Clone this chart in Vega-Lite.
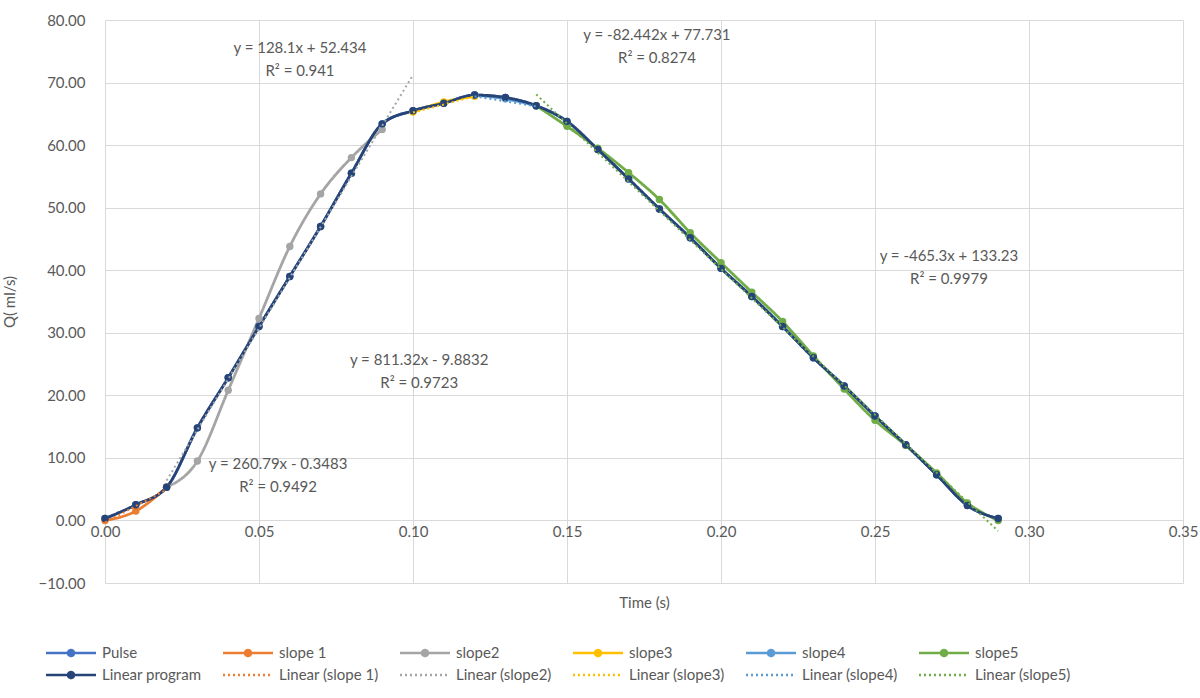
{
  "$schema": "https://vega.github.io/schema/vega-lite/v6.json",
  "width": 1078,
  "height": 563,
  "autosize": {"type": "none"},
  "padding": {"left": 105, "top": 20, "right": 17, "bottom": 115},
  "background": "white",
  "config": {
    "view": {"stroke": null},
    "font": "Lato",
    "axis": {"gridColor": "#d9d9d9", "gridWidth": 1, "domain": false, "ticks": false, "labelColor": "#595959", "labelFontSize": 15, "titleColor": "#595959", "titleFontSize": 15, "titleFontWeight": "normal", "labelFont": "Lato", "titleFont": "Lato"}
  },
  "datasets": {
    "pts": [
      {"series": "Pulse", "t": 0.00, "q": 0.3},
      {"series": "Pulse", "t": 0.01, "q": 2.5},
      {"series": "Pulse", "t": 0.02, "q": 5.3},
      {"series": "Pulse", "t": 0.03, "q": 14.8},
      {"series": "Pulse", "t": 0.04, "q": 22.8},
      {"series": "Pulse", "t": 0.05, "q": 31.0},
      {"series": "Pulse", "t": 0.06, "q": 39.0},
      {"series": "Pulse", "t": 0.07, "q": 47.0},
      {"series": "Pulse", "t": 0.08, "q": 55.5},
      {"series": "Pulse", "t": 0.09, "q": 63.4},
      {"series": "Pulse", "t": 0.10, "q": 65.5},
      {"series": "Pulse", "t": 0.11, "q": 66.7},
      {"series": "Pulse", "t": 0.12, "q": 68.0},
      {"series": "Pulse", "t": 0.13, "q": 67.6},
      {"series": "Pulse", "t": 0.14, "q": 66.3},
      {"series": "Pulse", "t": 0.15, "q": 63.8},
      {"series": "Pulse", "t": 0.16, "q": 59.3},
      {"series": "Pulse", "t": 0.17, "q": 54.6},
      {"series": "Pulse", "t": 0.18, "q": 49.8},
      {"series": "Pulse", "t": 0.19, "q": 45.2},
      {"series": "Pulse", "t": 0.20, "q": 40.3},
      {"series": "Pulse", "t": 0.21, "q": 35.8},
      {"series": "Pulse", "t": 0.22, "q": 31.0},
      {"series": "Pulse", "t": 0.23, "q": 26.0},
      {"series": "Pulse", "t": 0.24, "q": 21.5},
      {"series": "Pulse", "t": 0.25, "q": 16.7},
      {"series": "Pulse", "t": 0.26, "q": 12.1},
      {"series": "Pulse", "t": 0.27, "q": 7.3},
      {"series": "Pulse", "t": 0.28, "q": 2.4},
      {"series": "Pulse", "t": 0.29, "q": 0.3},
      {"series": "slope 1", "t": 0.00, "q": 0.0},
      {"series": "slope 1", "t": 0.01, "q": 1.5},
      {"series": "slope 1", "t": 0.02, "q": 5.3},
      {"series": "slope2", "t": 0.02, "q": 5.3},
      {"series": "slope2", "t": 0.03, "q": 9.5},
      {"series": "slope2", "t": 0.04, "q": 20.8},
      {"series": "slope2", "t": 0.05, "q": 32.3},
      {"series": "slope2", "t": 0.06, "q": 43.8},
      {"series": "slope2", "t": 0.07, "q": 52.2},
      {"series": "slope2", "t": 0.08, "q": 58.0},
      {"series": "slope2", "t": 0.09, "q": 62.5},
      {"series": "slope3", "t": 0.10, "q": 65.3},
      {"series": "slope3", "t": 0.11, "q": 66.9},
      {"series": "slope3", "t": 0.12, "q": 67.8},
      {"series": "slope4", "t": 0.12, "q": 68.0},
      {"series": "slope4", "t": 0.13, "q": 67.4},
      {"series": "slope4", "t": 0.14, "q": 66.3},
      {"series": "slope5", "t": 0.14, "q": 66.3},
      {"series": "slope5", "t": 0.15, "q": 63.0},
      {"series": "slope5", "t": 0.16, "q": 59.5},
      {"series": "slope5", "t": 0.17, "q": 55.6},
      {"series": "slope5", "t": 0.18, "q": 51.3},
      {"series": "slope5", "t": 0.19, "q": 46.0},
      {"series": "slope5", "t": 0.20, "q": 41.2},
      {"series": "slope5", "t": 0.21, "q": 36.5},
      {"series": "slope5", "t": 0.22, "q": 31.8},
      {"series": "slope5", "t": 0.23, "q": 26.3},
      {"series": "slope5", "t": 0.24, "q": 21.0},
      {"series": "slope5", "t": 0.25, "q": 16.0},
      {"series": "slope5", "t": 0.26, "q": 12.0},
      {"series": "slope5", "t": 0.27, "q": 7.6},
      {"series": "slope5", "t": 0.28, "q": 2.8},
      {"series": "slope5", "t": 0.29, "q": 0.0},
      {"series": "Linear program", "t": 0.00, "q": 0.3},
      {"series": "Linear program", "t": 0.01, "q": 2.5},
      {"series": "Linear program", "t": 0.02, "q": 5.3},
      {"series": "Linear program", "t": 0.03, "q": 14.8},
      {"series": "Linear program", "t": 0.04, "q": 22.8},
      {"series": "Linear program", "t": 0.05, "q": 31.0},
      {"series": "Linear program", "t": 0.06, "q": 39.0},
      {"series": "Linear program", "t": 0.07, "q": 47.0},
      {"series": "Linear program", "t": 0.08, "q": 55.5},
      {"series": "Linear program", "t": 0.09, "q": 63.4},
      {"series": "Linear program", "t": 0.10, "q": 65.5},
      {"series": "Linear program", "t": 0.11, "q": 66.7},
      {"series": "Linear program", "t": 0.12, "q": 68.0},
      {"series": "Linear program", "t": 0.13, "q": 67.6},
      {"series": "Linear program", "t": 0.14, "q": 66.3},
      {"series": "Linear program", "t": 0.15, "q": 63.8},
      {"series": "Linear program", "t": 0.16, "q": 59.3},
      {"series": "Linear program", "t": 0.17, "q": 54.6},
      {"series": "Linear program", "t": 0.18, "q": 49.8},
      {"series": "Linear program", "t": 0.19, "q": 45.2},
      {"series": "Linear program", "t": 0.20, "q": 40.3},
      {"series": "Linear program", "t": 0.21, "q": 35.8},
      {"series": "Linear program", "t": 0.22, "q": 31.0},
      {"series": "Linear program", "t": 0.23, "q": 26.0},
      {"series": "Linear program", "t": 0.24, "q": 21.5},
      {"series": "Linear program", "t": 0.25, "q": 16.7},
      {"series": "Linear program", "t": 0.26, "q": 12.1},
      {"series": "Linear program", "t": 0.27, "q": 7.3},
      {"series": "Linear program", "t": 0.28, "q": 2.4},
      {"series": "Linear program", "t": 0.29, "q": 0.3}
    ],
    "trend": [
      {"series": "Linear (slope 1)", "t": 0.00, "q": -0.3},
      {"series": "Linear (slope 1)", "t": 0.02, "q": 4.9},
      {"series": "Linear (slope2)", "t": 0.02, "q": 6.4},
      {"series": "Linear (slope2)", "t": 0.10, "q": 71.2},
      {"series": "Linear (slope3)", "t": 0.10, "q": 65.2},
      {"series": "Linear (slope3)", "t": 0.12, "q": 67.8},
      {"series": "Linear (slope4)", "t": 0.12, "q": 67.8},
      {"series": "Linear (slope4)", "t": 0.14, "q": 66.2},
      {"series": "Linear (slope5)", "t": 0.14, "q": 68.1},
      {"series": "Linear (slope5)", "t": 0.29, "q": -1.7}
    ],
    "one": [{"k": 1}]
  },
  "layer": [
    {
      "data": {"name": "pts"},
      "mark": {"type": "line", "interpolate": "monotone", "strokeWidth": 2.8, "point": {"filled": true, "size": 55}},
      "encoding": {
        "x": {"field": "t", "type": "quantitative", "title": "Time (s)",
          "scale": {"domain": [0, 0.35], "nice": false, "zero": false},
          "axis": {"values": [0, 0.05, 0.1, 0.15, 0.2, 0.25, 0.3, 0.35], "format": ".2f", "labelPadding": 4, "labelFlush": false, "offset": -63, "titleY": 82, "titleBaseline": "middle"}},
        "y": {"field": "q", "type": "quantitative", "title": "Q( ml/s)",
          "scale": {"domain": [-10, 80], "nice": false},
          "axis": {"values": [-10, 0, 10, 20, 30, 40, 50, 60, 70, 80], "format": ".2f", "labelPadding": 20, "titleX": -88, "labelFlush": false}},
        "color": {"field": "series", "type": "nominal",
          "scale": {"domain": ["Pulse", "slope 1", "slope2", "slope3", "slope4", "slope5", "Linear program", "Linear (slope 1)", "Linear (slope2)", "Linear (slope3)", "Linear (slope4)", "Linear (slope5)"],
            "range": ["#4472C4", "#ED7D31", "#A5A5A5", "#FFC000", "#5B9BD5", "#70AD47", "#264478", "#ED7D31", "#A5A5A5", "#FFC000", "#5B9BD5", "#70AD47"]},
          "legend": {"title": null, "orient": "none", "legendX": -73, "legendY": 619, "columns": 6, "direction": "horizontal",
            "symbolType": "M-2,0H2M-0.24,0a0.24,0.24 0 1,0 0.48,0a0.24,0.24 0 1,0 -0.48,0",
            "symbolSize": 625, "symbolOffset": 25, "symbolStrokeWidth": 2.5, "labelFontSize": 15, "labelColor": "#595959", "labelFont": "Lato", "labelOffset": 17, "columnPadding": 7, "rowPadding": 0,
            "encode": {"symbols": {"update": {"shape": {"signal": "indexof(datum.value, 'Linear (') == 0 ? 'M-2,0H2' : 'M-2,0H2M-0.24,0a0.24,0.24 0 1,0 0.48,0a0.24,0.24 0 1,0 -0.48,0'"}}}}}},
        "strokeDash": {"field": "series", "type": "nominal",
          "scale": {"domain": ["Pulse", "slope 1", "slope2", "slope3", "slope4", "slope5", "Linear program", "Linear (slope 1)", "Linear (slope2)", "Linear (slope3)", "Linear (slope4)", "Linear (slope5)"],
            "range": [[1, 0], [1, 0], [1, 0], [1, 0], [1, 0], [1, 0], [1, 0], [2, 3], [2, 3], [2, 3], [2, 3], [2, 3]]}}
      }
    },
    {
      "data": {"name": "trend"},
      "mark": {"type": "line", "strokeWidth": 2},
      "encoding": {
        "x": {"field": "t", "type": "quantitative"},
        "y": {"field": "q", "type": "quantitative"},
        "color": {"field": "series", "type": "nominal"},
        "strokeDash": {"field": "series", "type": "nominal"}
      }
    },
    {
      "data": {"name": "one"},
      "mark": {"type": "text", "text": ["y = 128.1x + 52.434", "R² = 0.941"], "fontSize": 15, "lineHeight": 23, "color": "#595959", "font": "Lato", "align": "center", "baseline": "middle"},
      "encoding": {"x": {"datum": 0.0633}, "y": {"datum": 75.5}}
    },
    {
      "data": {"name": "one"},
      "mark": {"type": "text", "text": ["y = -82.442x + 77.731", "R² = 0.8274"], "fontSize": 15, "lineHeight": 23, "color": "#595959", "font": "Lato", "align": "center", "baseline": "middle"},
      "encoding": {"x": {"datum": 0.1792}, "y": {"datum": 77.6}}
    },
    {
      "data": {"name": "one"},
      "mark": {"type": "text", "text": ["y = -465.3x + 133.23", "R² = 0.9979"], "fontSize": 15, "lineHeight": 23, "color": "#595959", "font": "Lato", "align": "center", "baseline": "middle"},
      "encoding": {"x": {"datum": 0.274}, "y": {"datum": 42.3}}
    },
    {
      "data": {"name": "one"},
      "mark": {"type": "text", "text": ["y = 811.32x - 9.8832", "R² = 0.9723"], "fontSize": 15, "lineHeight": 23, "color": "#595959", "font": "Lato", "align": "center", "baseline": "middle"},
      "encoding": {"x": {"datum": 0.102}, "y": {"datum": 25.6}}
    },
    {
      "data": {"name": "one"},
      "mark": {"type": "text", "text": ["y = 260.79x - 0.3483", "R² = 0.9492"], "fontSize": 15, "lineHeight": 23, "color": "#595959", "font": "Lato", "align": "center", "baseline": "middle"},
      "encoding": {"x": {"datum": 0.0562}, "y": {"datum": 9.0}}
    }
  ]
}
